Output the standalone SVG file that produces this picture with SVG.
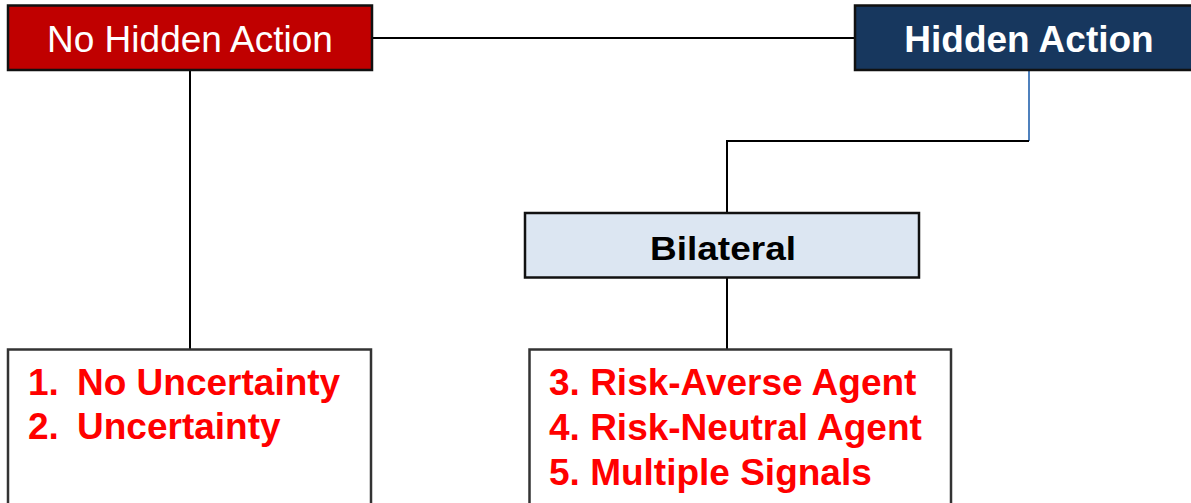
<svg xmlns="http://www.w3.org/2000/svg" width="1191" height="503" viewBox="0 0 1191 503">
<style>
.box{stroke:#111;stroke-width:2.5}
.conn{fill:none;stroke:#000;stroke-width:2}
.t{font-family:"Liberation Sans",Arial,sans-serif;font-size:37px}
.b{font-weight:bold}
.red{fill:#FF0000;font-weight:bold}
</style>
<rect width="1191" height="503" fill="#fff"/>
<g id="connectors">
<line class="conn" x1="372" y1="38" x2="855" y2="38"/>
<line class="conn" x1="190" y1="70" x2="190" y2="349"/>
<line x1="1029" y1="70" x2="1029" y2="141" stroke="#4F81BD" stroke-width="2"/>
<polyline class="conn" points="1029,141 727,141 727,213"/>
<line class="conn" x1="727" y1="278" x2="727" y2="349"/>
</g>
<g id="no-hidden-action">
<rect class="box" x="8" y="5.5" width="364" height="64.5" fill="#C00000"/>
<text class="t" x="190" y="52" text-anchor="middle" fill="#fff">No Hidden Action</text>
</g>
<g id="hidden-action">
<rect class="box" x="855" y="5.5" width="350" height="64.5" fill="#17375E"/>
<text class="t b" x="1029" y="52" text-anchor="middle" fill="#fff">Hidden Action</text>
</g>
<g id="bilateral">
<rect class="box" x="525" y="213" width="394" height="64.5" fill="#DCE6F2"/>
<text class="t b" x="650" y="260" font-size="33" textLength="146" lengthAdjust="spacingAndGlyphs" fill="#000" style="font-size:33px">Bilateral</text>
</g>
<g id="no-hidden-list">
<rect x="8" y="349.5" width="363" height="170" fill="#fff" stroke="#333" stroke-width="2.5"/>
<text class="t red" x="28" y="395">1.</text>
<text class="t red" x="77" y="395">No Uncertainty</text>
<text class="t red" x="28" y="439">2.</text>
<text class="t red" x="77" y="439">Uncertainty</text>
</g>
<g id="hidden-list">
<rect x="529.5" y="349.5" width="421.5" height="170" fill="#fff" stroke="#333" stroke-width="2.5"/>
<text class="t red" x="549" y="395">3. Risk-Averse Agent</text>
<text class="t red" x="549" y="440">4. Risk-Neutral Agent</text>
<text class="t red" x="549" y="485">5. Multiple Signals</text>
</g>
</svg>
